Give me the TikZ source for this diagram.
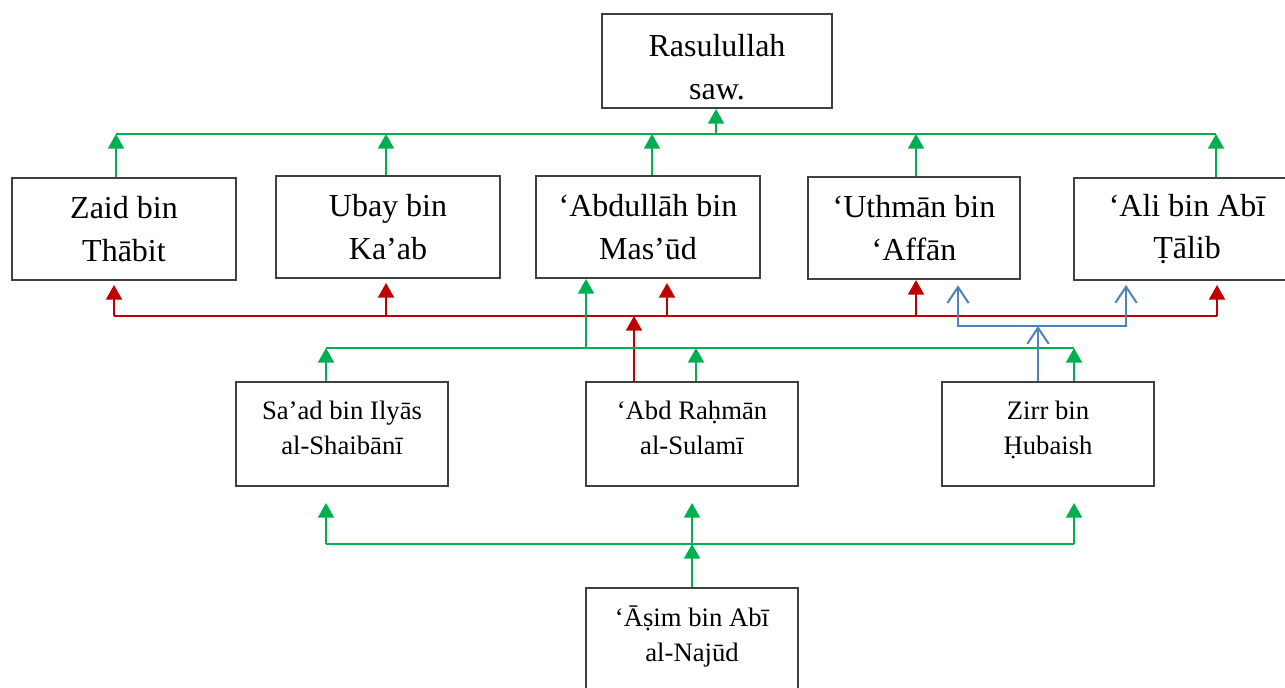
\documentclass[tikz,border=0pt]{standalone}
\usepackage{fontspec}
\setmainfont{Liberation Serif}
\usetikzlibrary{arrows.meta}
\definecolor{sanadgreen}{HTML}{00B050}
\definecolor{sanadred}{HTML}{C00000}
\definecolor{sanadblue}{HTML}{4F81BD}
\definecolor{boxgray}{HTML}{404040}
\tikzset{
  bigbox/.style={rectangle,draw=boxgray,line width=0.75pt,align=center,minimum width=84pt,minimum height=38.25pt,font=\fontsize{12}{16}\selectfont},
  smallbox/.style={rectangle,draw=boxgray,line width=0.75pt,align=center,minimum width=79.5pt,minimum height=39pt,font=\fontsize{10}{13}\selectfont,text depth=4.5pt},
  gline/.style={draw=sanadgreen,line width=0.75pt},
  garrow/.style={gline,-{Triangle[width=6pt,length=5.5pt]}},
  rline/.style={draw=sanadred,line width=0.75pt},
  rarrow/.style={rline,-{Triangle[width=6pt,length=5.5pt]}},
  bline/.style={draw=sanadblue,line width=0.75pt},
  barrow/.style={bline,-{Straight Barb[width=8pt,length=6pt]}},
  bdouble/.style={bline,{Straight Barb[width=8pt,length=6pt]}-{Straight Barb[width=8pt,length=6pt]}}
}
\begin{document}
\begin{tikzpicture}[x=0.375pt,y=-0.375pt]
\useasboundingbox (0,0) rectangle (1285,687);
\clip (0,0) rectangle (1285,687);

\node[bigbox,minimum width=86.25pt,minimum height=35.25pt,text height=28.6pt,text depth=0pt] (rasul) at (717,61) {Rasulullah\\saw.};
\node[bigbox] (zaid) at (124,229) {Zaid bin\\Thābit};
\node[bigbox] (ubay) at (388,227) {Ubay bin\\Ka’ab};
\node[bigbox] (abdullah) at (648,227) {‘Abdullāh bin\\Mas’ūd};
\node[bigbox,minimum width=79.5pt] (uthman) at (914,228) {‘Uthmān bin\\‘Affān};
\node[bigbox,minimum width=84.75pt] (ali) at (1187,229) {‘Ali bin Abī\\Ṭālib};
\node[smallbox] (saad) at (342,434) {Sa’ad bin Ilyās\\al-Shaibānī};
\node[smallbox] (abdrahman) at (692,434) {‘Abd Raḥmān\\al-Sulamī};
\node[smallbox] (zirr) at (1048,434) {Zirr bin\\Ḥubaish};
\node[smallbox] (asim) at (692,640) {‘Āṣim bin Abī\\al-Najūd};

\coordinate (gt1) at (116,134);
\coordinate (gt2) at (386,134);
\coordinate (gt3) at (652,134);
\coordinate (gt4) at (916,134);
\coordinate (gt5) at (1216,134);
\coordinate (gtr) at (716,134);
\draw[gline] (gt1) -- (gt5);
\draw[garrow] (gtr) -- (rasul.south -| gtr);
\draw[garrow] (zaid.north -| gt1) -- (gt1);
\draw[garrow] (ubay.north -| gt2) -- (gt2);
\draw[garrow] (abdullah.north -| gt3) -- (gt3);
\draw[garrow] (uthman.north -| gt4) -- (gt4);
\draw[garrow] (ali.north -| gt5) -- (gt5);

\coordinate (rb1) at (114,316);
\coordinate (rb2) at (386,316);
\coordinate (rb3) at (667,316);
\coordinate (rb4) at (916,316);
\coordinate (rb5) at (1217,316);
\coordinate (rbm) at (634,316);
\draw[rline] (rb1) -- (rb5);
\draw[rarrow,shorten >=1.5pt] (rb1) -- (zaid.south -| rb1);
\draw[rarrow,shorten >=1.5pt] (rb2) -- (ubay.south -| rb2);
\draw[rarrow,shorten >=1.5pt] (rb3) -- (abdullah.south -| rb3);
\draw[rarrow] (rb4) -- (uthman.south -| rb4);
\draw[rarrow,shorten >=1.5pt] (rb5) -- (ali.south -| rb5);
\draw[rarrow] (abdrahman.north -| rbm) -- (rbm);

\coordinate (gm1) at (326,348);
\coordinate (gm2) at (586,348);
\coordinate (gm3) at (696,348);
\coordinate (gm4) at (1074,348);
\draw[gline] (gm1) -- (gm4);
\draw[garrow] (saad.north -| gm1) -- (gm1);
\draw[garrow] (abdrahman.north -| gm3) -- (gm3);
\draw[garrow] (zirr.north -| gm4) -- (gm4);
\draw[garrow] (gm2) -- (abdullah.south -| gm2);

\coordinate (bb1) at (958,326);
\coordinate (bb2) at (1126,326);
\coordinate (bbz) at (1038,326);
\draw[bdouble,shorten <=2pt,shorten >=1.5pt] (uthman.south -| bb1) -- (bb1) -- (bb2) -- (ali.south -| bb2);
\draw[barrow] (zirr.north -| bbz) -- (bbz);

\coordinate (gb1) at (326,544);
\coordinate (gb2) at (692,544);
\coordinate (gb3) at (1074,544);
\draw[gline] (gb1) -- (gb3);
\draw[garrow,shorten >=6pt] (gb1) -- (saad.south -| gb1);
\draw[garrow,shorten >=6pt] (gb2) -- (abdrahman.south -| gb2);
\draw[garrow,shorten >=6pt] (gb3) -- (zirr.south -| gb3);
\draw[garrow] (asim.north -| gb2) -- (gb2);
\end{tikzpicture}
\end{document}
